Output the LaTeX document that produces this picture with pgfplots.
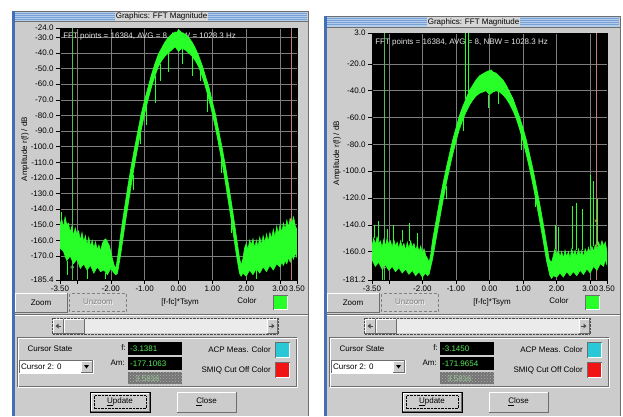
\documentclass[border=0pt]{standalone}
\usepackage{fontspec}
\setmainfont{Liberation Sans}
\usepackage{pgfplots}
\pgfplotsset{compat=1.18}
\usetikzlibrary{patterns}

\definecolor{wgray}{RGB}{204,204,204}
\definecolor{dgray}{RGB}{110,110,110}
\definecolor{tblue}{RGB}{178,206,236}
\definecolor{tline}{RGB}{120,160,212}
\definecolor{tbox}{RGB}{214,214,214}
\definecolor{wblue}{RGB}{70,110,180}
\definecolor{fgreen}{RGB}{40,255,40}
\definecolor{cgreen}{RGB}{80,190,80}
\definecolor{cred}{RGB}{196,120,120}
\definecolor{gridc}{RGB}{125,125,125}
\definecolor{lcd}{RGB}{90,235,90}
\definecolor{lcdd}{RGB}{150,200,150}
\definecolor{acp}{RGB}{40,200,215}
\definecolor{smiq}{RGB}{240,20,20}

\newcommand{\sm}{\fontsize{8}{9.6}\selectfont}

% raised button: x1 y1 x2 y2 text (y downward)
\newcommand{\btn}[5]{%
  \fill[wgray] (#1,#2) rectangle (#3,#4);
  \draw[white] (#1,#4) -- (#1,#2) -- (#3,#2);
  \draw[dgray] (#1,#4) -- (#3,#4) -- (#3,#2);
  \node[font=\sm] at ({(#1+#3)/2},{(#2+#4)/2}) {#5};}
% sunken frame
\newcommand{\sunk}[4]{%
  \draw[dgray] (#1,#4) -- (#1,#2) -- (#3,#2);
  \draw[white] (#1,#4) -- (#3,#4) -- (#3,#2);}

% window chrome: #1 xshift, #2 top, #3 title bottom, #4 f, #5 Am, #6 third, #7 ylabel centre
\newcommand{\win}[7]{%
\begin{scope}[xshift=#1, yscale=-1]
  \fill[wgray] (12,#2) rectangle (309,416);
  \fill[tblue] (14,#2+1) rectangle (307,#3);
  \foreach \k in {2,4,6,8} {\draw[tline, line width=0.6pt] (14,#2+\k) -- (307,#2+\k);}
  \fill[tbox] (115,#2+1) rectangle (208,#3);
  \node[font=\sm, inner sep=0pt] at (161.5,{(#2+#3)/2+0.7}) {Graphics: FFT Magnitude};
  \draw[dgray] (12,#2) -- (309,#2);
  \draw[dgray] (14,#3+0.5) -- (308,#3+0.5);
  \fill[wblue] (12,#2) rectangle (14.5,416);
  \draw[dgray] (308.5,#2) -- (308.5,416);
  % y label
  \node[rotate=90, font=\sm] at (25,#7) {Amplitude r(f) / dB};
  % button row
  \btn{15}{293}{67}{312}{Zoom}
  \fill[wgray] (69,293) rectangle (127,312);
  \draw[gray, densely dashed] (69.5,293.5) rectangle (126.5,311.5);
  \node[font=\sm, text=white] at (98.6,302.6) {Unzoom};
  \node[font=\sm, text=gray] at (98,302) {Unzoom};
  \node[font=\sm] at (180,302) {[f-fc]*Tsym};
  \node[font=\sm] at (247,301) {Color};
  \fill[fgreen] (274,296) rectangle (287,309);
  \sunk{273.5}{295.5}{287.5}{309.5}
  \draw[dgray] (14.5,314.5) -- (308,314.5);
  \draw[white] (14.5,315.5) -- (308,315.5);
  % scrollbar
  \fill[black!8] (53,319) rectangle (277,333);
  \draw[black!70, densely dotted] (52,318) rectangle (278,334);
  \btn{53}{319}{63}{333}{}
  \fill[black!70] (55.5,326) -- (58.5,323.5) -- (58.5,328.5) -- cycle;
  \draw[black!70] (58,326) -- (61,326);
  \btn{64}{319}{84}{333}{}
  \btn{267}{319}{277}{333}{}
  \fill[black!70] (274.5,326) -- (271.5,323.5) -- (271.5,328.5) -- cycle;
  \draw[black!70] (272,326) -- (269,326);
  % group box
  \draw[dgray] (17,337.5) rectangle (296.5,386.5);
  \draw[white] (18,338.5) rectangle (297.5,387.5);
  \node[anchor=west, font=\sm] at (24,349) {Cursor State};
  \fill[white] (19,360) rectangle (93,373);
  \sunk{19}{360}{93}{373}
  \node[anchor=west, font=\sm, inner sep=1pt] at (20,366.5) {Cursor 2: 0};
  \btn{81}{361}{92}{372}{}
  \fill[black] (84,365) -- (89,365) -- (86.5,368.5) -- cycle;
  % fields
  \node[anchor=east, font=\sm, inner sep=1pt] at (127,348) {f:};
  \fill[black] (128,342) rectangle (182,355);
  \node[anchor=west, font=\sm, text=lcd, inner sep=1pt] at (129,348.7) {#4};
  \node[anchor=east, font=\sm, inner sep=1pt] at (126,363) {Am:};
  \fill[black] (128,357) rectangle (182,370);
  \node[anchor=west, font=\sm, text=lcd, inner sep=1pt] at (129,363.7) {#5};
  \fill[black!55] (128,372) rectangle (182,384);
  \fill[pattern=crosshatch dots, pattern color=black!30] (128,372) rectangle (182,384);
  \node[anchor=west, font=\sm, text=lcdd, inner sep=1pt] at (134,378.3) {#6};
  % colour boxes
  \node[anchor=east, font=\sm, inner sep=1pt] at (272,350) {ACP Meas. Color};
  \fill[acp] (276,343) rectangle (289,357);
  \sunk{275.5}{342.5}{289.5}{357.5}
  \node[anchor=east, font=\sm, inner sep=1pt] at (272,370) {SMIQ Cut Off Color};
  \fill[smiq] (276,363) rectangle (289,377);
  \sunk{275.5}{362.5}{289.5}{377.5}
  % Update / Close
  \draw[black, line width=1pt] (90,392) rectangle (150,412);
  \btn{91}{393}{149}{411}{\underline{U}pdate}
  \draw[black, densely dotted] (94,395.5) rectangle (146,408.5);
  \btn{177}{392}{236}{412}{\underline{C}lose}
\end{scope}}

\pgfplotsset{fftax/.style={
  scale only axis, anchor=south west,
  xmin=-3.5, xmax=3.5,
  axis background/.style={fill=black},
  axis line style={black},
  grid=major, major grid style={gridc, line width=0.5pt},
  xtick={-3.5,-3,-2,-1,0,1,2,3,3.5},
  xticklabels={-3.50,,-2.00,-1.00,0.00,1.00,2.00,3.00,3.50},
  tick align=outside, major tick length=4pt,
  xtick pos=left, ytick pos=left,
  tick style={black, line width=0.5pt},
  ticklabel style={font=\sm, text=black},
  yticklabel style={xshift=1pt},
  xticklabel style={inner sep=1pt, yshift=-1pt},
  unbounded coords=jump,
}}

\begin{document}
\begin{tikzpicture}[x=1pt, y=1pt, font=\sm]
\fill[white] (0,0) rectangle (623,-416);
\path[use as bounding box] (0,0) rectangle (623,-416);
\win{0pt}{11}{21}{-3.1381}{-177.1063}{3.5816}{149}
\win{312pt}{16}{27}{-3.1450}{-171.9654}{3.5816}{153}

% ---------------- left spectrum ----------------
\begin{axis}[fftax, at={(60pt,-280pt)}, width=237pt, height=252pt,
  ymin=-185.4, ymax=-24,
  ytick={-185.4,-170,-160,-150,-140,-130,-120,-110,-100,-90,-80,-70,-60,-50,-40,-30,-24},
  yticklabels={-185.4,-170.0,-160.0,-150.0,-140.0,-130.0,-120.0,-110.0,-100.0,-90.0,-80.0,-70.0,-60.0,-50.0,-40.0,-30.0,-24.0}]
\node[anchor=west, text=white!90!black, font=\sm, inner sep=0pt] at (rel axis cs:0.013,0.968) {FFT points = 16384, AVG = 8, NBW = 1028.3 Hz};
\addplot[cgreen, line width=0.6pt] coordinates {(-3.1381,-185.4) (-3.1381,-24)};
\addplot[cred, line width=0.6pt] coordinates {(3.32,-185.4) (3.32,-24)};
\addplot[fill=fgreen, draw=fgreen, line width=0.6pt] coordinates {
(-3.50,-150) (-3.45,-146) (-3.40,-152) (-3.35,-145) (-3.30,-150) (-3.25,-149) (-3.20,-155) (-3.15,-151)
(-3.10,-157) (-3.05,-152) (-3.00,-156) (-2.95,-154) (-2.90,-160) (-2.85,-155) (-2.80,-161) (-2.75,-157)
(-2.70,-163) (-2.65,-158) (-2.60,-164) (-2.55,-160) (-2.50,-165) (-2.45,-161) (-2.40,-166) (-2.35,-163)
(-2.30,-167) (-2.25,-162) (-2.20,-160) (-2.15,-159) (-2.10,-161) (-2.05,-163) (-2.00,-167) (-1.95,-172)
(-1.90,-176) (-1.85,-178)
(-1.80,-171) (-1.70,-155) (-1.60,-140) (-1.50,-126) (-1.40,-113) (-1.30,-101) (-1.20,-90) (-1.10,-79)
(-1.00,-70) (-0.90,-62) (-0.80,-54) (-0.70,-47) (-0.60,-41) (-0.50,-37) (-0.40,-33) (-0.30,-30)
(-0.20,-28) (-0.10,-26.5) (-0.05,-27) (0.00,-25) (0.05,-26) (0.10,-27) (0.20,-28) (0.30,-30)
(0.40,-33) (0.50,-37) (0.60,-42) (0.70,-48) (0.80,-55) (0.90,-62) (1.00,-71) (1.10,-80)
(1.20,-91) (1.30,-102) (1.40,-114) (1.50,-127) (1.60,-141) (1.70,-156) (1.80,-171) (1.85,-176)
(1.90,-172) (1.95,-165) (2.00,-162) (2.05,-166) (2.10,-160) (2.15,-163) (2.20,-159) (2.25,-165)
(2.30,-160) (2.35,-164) (2.40,-158) (2.45,-163) (2.50,-157) (2.55,-162) (2.60,-156) (2.65,-161)
(2.70,-155) (2.75,-159) (2.80,-153) (2.85,-158) (2.90,-151) (2.95,-156) (3.00,-150) (3.05,-155)
(3.10,-149) (3.15,-153) (3.20,-147) (3.25,-152) (3.30,-146) (3.35,-149) (3.40,-145) (3.45,-151)
(3.50,-153)
(3.50,-171) (3.45,-168) (3.40,-172) (3.35,-170) (3.30,-174) (3.25,-171) (3.20,-175) (3.15,-173)
(3.10,-176) (3.05,-174) (3.00,-177) (2.90,-175) (2.80,-179) (2.70,-176) (2.60,-180) (2.50,-177)
(2.40,-181) (2.30,-178) (2.20,-182) (2.10,-179) (2.00,-183) (1.90,-181) (1.85,-183)
(1.80,-181) (1.70,-168) (1.60,-153) (1.50,-139) (1.40,-125) (1.30,-112) (1.20,-100) (1.10,-89)
(1.00,-79) (0.90,-70) (0.80,-62) (0.70,-55) (0.60,-49) (0.50,-45) (0.40,-42) (0.30,-40)
(0.20,-38) (0.10,-37) (0.00,-39) (-0.10,-36) (-0.20,-38) (-0.30,-40) (-0.40,-42) (-0.50,-45)
(-0.60,-49) (-0.70,-55) (-0.80,-62) (-0.90,-70) (-1.00,-79) (-1.10,-89) (-1.20,-100) (-1.30,-112)
(-1.40,-125) (-1.50,-139) (-1.60,-153) (-1.70,-168) (-1.80,-181) (-1.85,-182)
(-1.90,-181) (-2.00,-178) (-2.10,-182) (-2.20,-179) (-2.30,-180) (-2.40,-177) (-2.50,-181) (-2.60,-176)
(-2.70,-179) (-2.80,-175) (-2.90,-178) (-3.00,-172) (-3.10,-175) (-3.20,-170) (-3.30,-173) (-3.40,-167)
(-3.50,-165)};
\addplot[fgreen, line width=0.5pt] coordinates {
(-0.30,-40) (-0.30,-52) (0,nan) (0.40,-42) (0.40,-55) (0,nan) (0.63,-50) (0.63,-58) (0,nan)
(-0.69,-55) (-0.69,-72) (0,nan) (-1.12,-85) (-1.12,-98) (0,nan) (0.12,-37) (0.12,-47) (0,nan)
(-1.35,-118) (-1.35,-128) (0,nan) (-0.95,-74) (-0.95,-86) (0,nan) (-0.55,-47) (-0.55,-58) (0,nan)
(0.85,-66) (0.85,-78) (0,nan) (1.25,-106) (1.25,-117) (0,nan) (1.55,-146) (1.55,-155) (0,nan)
(-3.30,-173) (-3.30,-182) (0,nan) (-2.70,-179) (-2.70,-185) (0,nan) (-2.15,-181) (-2.15,-185) (0,nan)
(2.30,-178) (2.30,-185) (0,nan) (-3.45,-146) (-3.45,-142)};
\addplot[only marks, mark=o, mark size=1.6pt, mark options={draw=black!45!green!60!white, line width=0.5pt}] coordinates {(-3.1381,-177.1063)};
\addplot[only marks, mark=x, mark size=1.8pt, mark options={draw=cred!70!yellow, line width=0.5pt}] coordinates {(3.32,-147)};
\end{axis}

% ---------------- right spectrum ----------------
\begin{axis}[fftax, at={(372pt,-280pt)}, width=235pt, height=247pt,
  ymin=-181.2, ymax=3,
  ytick={-181.2,-160,-140,-120,-100,-80,-60,-40,-20,3},
  yticklabels={-181.2,-160.0,-140.0,-120.0,-100.0,-80.0,-60.0,-40.0,-20.0,3.0}]
\node[anchor=west, text=white!90!black, font=\sm, inner sep=0pt] at (rel axis cs:0.013,0.962) {FFT points = 16384, AVG = 8, NBW = 1028.3 Hz};
\addplot[cgreen, line width=0.6pt] coordinates {(-3.1450,-181.2) (-3.1450,3)};
\addplot[cred, line width=0.6pt] coordinates {(3.17,-181.2) (3.17,3)};
\addplot[fill=fgreen, draw=fgreen, line width=0.6pt] coordinates {
(-3.50,-156) (-3.45,-150) (-3.40,-155) (-3.35,-149) (-3.30,-154) (-3.25,-152) (-3.20,-157) (-3.15,-151)
(-3.10,-156) (-3.05,-150) (-3.00,-155) (-2.95,-152) (-2.90,-157) (-2.85,-151) (-2.80,-156) (-2.75,-153)
(-2.70,-158) (-2.65,-152) (-2.60,-157) (-2.55,-154) (-2.50,-159) (-2.45,-153) (-2.40,-158) (-2.35,-152)
(-2.30,-157) (-2.25,-154) (-2.20,-159) (-2.15,-155) (-2.10,-160) (-2.05,-156) (-2.00,-161) (-1.95,-158)
(-1.90,-163) (-1.85,-165)
(-1.80,-168) (-1.75,-162) (-1.70,-152) (-1.60,-138) (-1.50,-124) (-1.40,-111) (-1.30,-99) (-1.20,-88)
(-1.10,-77) (-1.00,-68) (-0.90,-59) (-0.80,-52) (-0.70,-46) (-0.60,-40) (-0.50,-36) (-0.40,-32)
(-0.30,-29) (-0.20,-27.5) (-0.10,-26) (0.00,-25) (0.05,-24.5) (0.10,-26) (0.20,-27) (0.30,-29.5)
(0.40,-32) (0.50,-36) (0.60,-41) (0.70,-46) (0.80,-53) (0.90,-60) (1.00,-68) (1.10,-77)
(1.20,-88) (1.30,-99) (1.40,-112) (1.50,-125) (1.60,-139) (1.70,-154) (1.78,-166) (1.85,-168)
(1.90,-163) (1.95,-158) (2.00,-163) (2.05,-159) (2.10,-164) (2.15,-160) (2.20,-165) (2.25,-159)
(2.30,-164) (2.35,-160) (2.40,-165) (2.45,-158) (2.50,-163) (2.55,-159) (2.60,-164) (2.65,-158)
(2.70,-163) (2.75,-159) (2.80,-164) (2.85,-158) (2.90,-162) (2.95,-157) (3.00,-161) (3.05,-156)
(3.10,-160) (3.15,-155) (3.20,-159) (3.25,-153) (3.30,-157) (3.35,-152) (3.40,-156) (3.45,-153)
(3.50,-160)
(3.50,-170) (3.45,-166) (3.40,-171) (3.30,-169) (3.20,-174) (3.10,-171) (3.00,-176) (2.90,-173)
(2.80,-177) (2.70,-174) (2.60,-178) (2.50,-175) (2.40,-178) (2.30,-175) (2.20,-179) (2.10,-176)
(2.00,-179) (1.90,-178) (1.85,-180)
(1.80,-178) (1.70,-167) (1.60,-152) (1.50,-138) (1.40,-124) (1.30,-111) (1.20,-99) (1.10,-88)
(1.00,-78) (0.90,-69) (0.80,-61) (0.70,-55) (0.60,-50) (0.50,-46) (0.40,-43) (0.30,-41)
(0.20,-40) (0.10,-41) (0.00,-43) (-0.10,-40) (-0.20,-41) (-0.30,-42) (-0.40,-44) (-0.50,-47)
(-0.60,-51) (-0.70,-56) (-0.80,-62) (-0.90,-69) (-1.00,-78) (-1.10,-88) (-1.20,-99) (-1.30,-111)
(-1.40,-124) (-1.50,-138) (-1.60,-152) (-1.70,-166) (-1.80,-177) (-1.85,-178)
(-1.90,-176) (-2.00,-179) (-2.10,-175) (-2.20,-178) (-2.30,-174) (-2.40,-177) (-2.50,-173) (-2.60,-176)
(-2.70,-172) (-2.80,-175) (-2.90,-171) (-3.00,-174) (-3.10,-170) (-3.20,-173) (-3.30,-168) (-3.40,-171)
(-3.50,-166)};
\addplot[fgreen, line width=0.5pt] coordinates {
(-0.72,-46) (-0.72,3) (0,nan) (-0.62,-41) (-0.62,3) (0,nan)
(-0.05,-43) (-0.05,-53) (0,nan) (0.25,-40) (0.25,-50) (0,nan) (-0.78,-60) (-0.78,-70) (0,nan)
(-1.30,-111) (-1.30,-121) (0,nan) (0.95,-72) (0.95,-84) (0,nan) (1.35,-117) (1.35,-127) (0,nan)
(-3.42,-150) (-3.42,-140) (0,nan) (-3.30,-152) (-3.30,-137) (0,nan) (-3.05,-150) (-3.05,-143) (0,nan)
(-2.88,-152) (-2.88,-140) (0,nan) (-2.60,-153) (-2.60,-144) (0,nan) (-2.38,-152) (-2.38,-139) (0,nan)
(-2.15,-155) (-2.15,-146) (0,nan) (-3.20,-173) (-3.20,-181) (0,nan) (-2.00,-178) (-2.00,-181) (0,nan)
(1.95,-158) (1.95,-140) (0,nan) (2.05,-159) (2.05,-142) (0,nan) (2.45,-158) (2.45,-126) (0,nan)
(2.57,-159) (2.57,-124) (0,nan) (2.75,-159) (2.75,-128) (0,nan) (2.99,-157) (2.99,-103) (0,nan)
(3.08,-156) (3.08,-107) (0,nan) (3.22,-155) (3.22,-121)};
\addplot[only marks, mark=o, mark size=1.6pt, mark options={draw=black!45!green!60!white, line width=0.5pt}] coordinates {(-3.1450,-171.9654)};
\addplot[only marks, mark=x, mark size=1.8pt, mark options={draw=cred!70!yellow, line width=0.5pt}] coordinates {(3.17,-137)};
\end{axis}
\end{tikzpicture}
\end{document}
